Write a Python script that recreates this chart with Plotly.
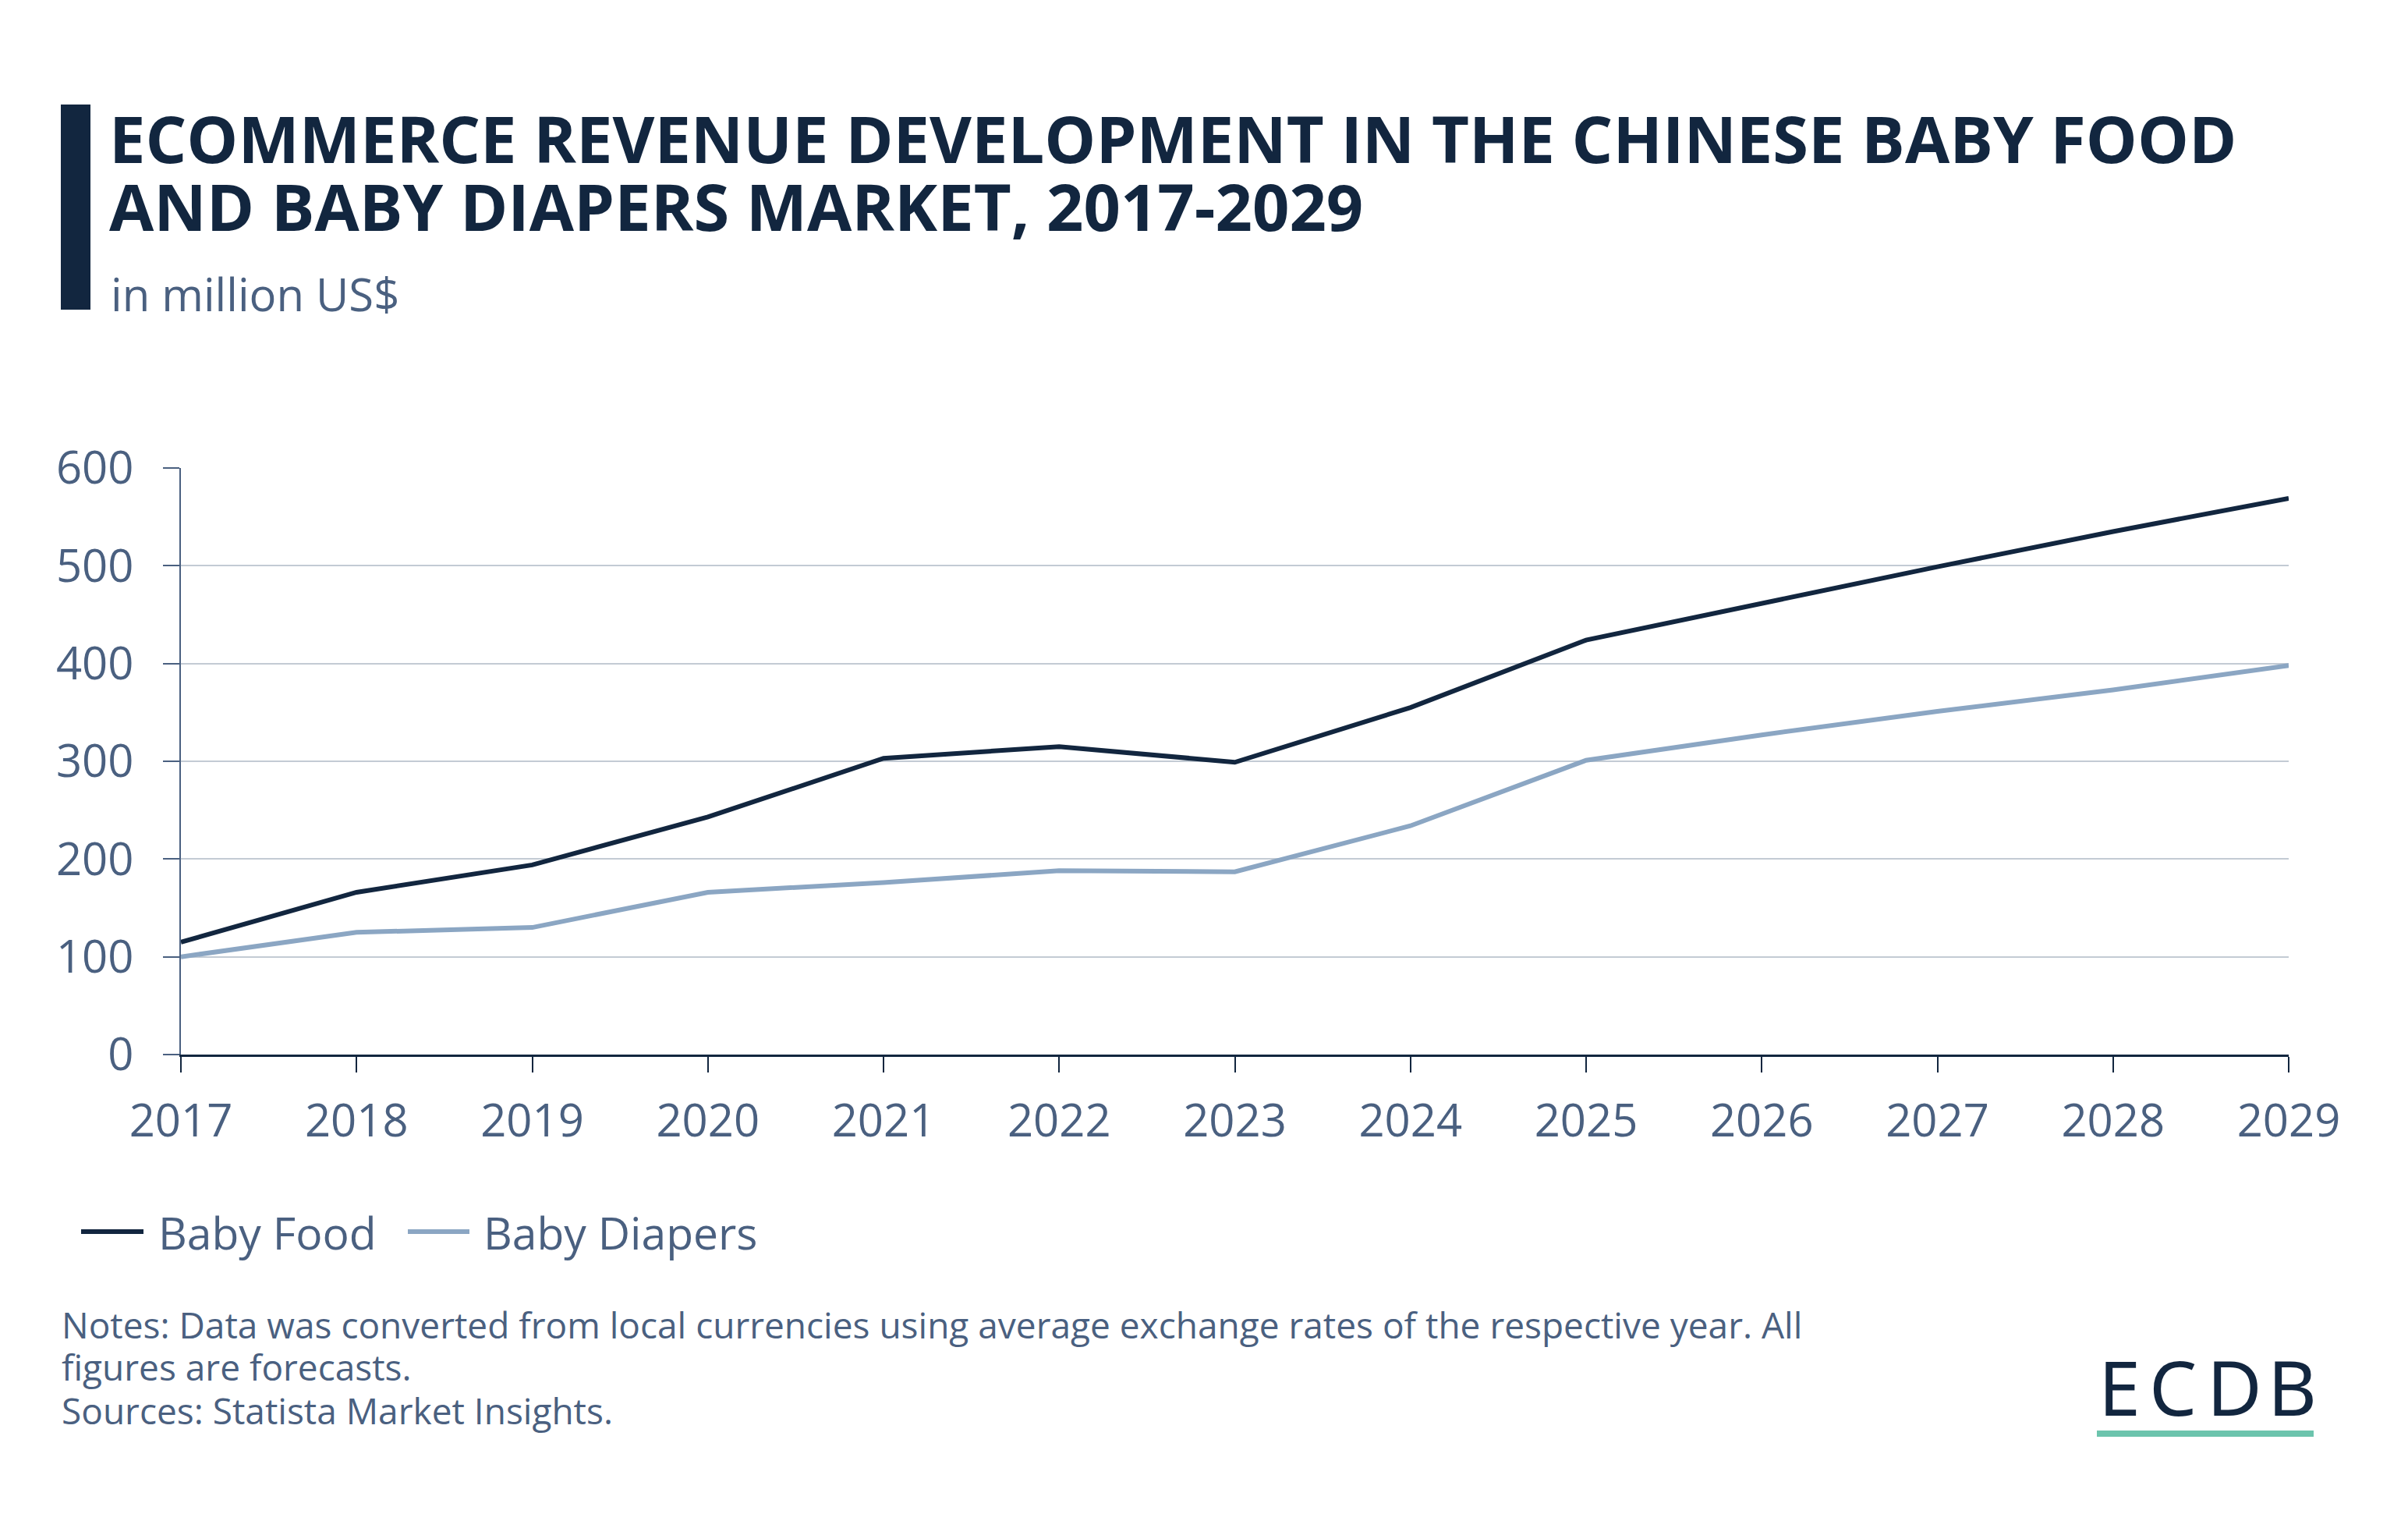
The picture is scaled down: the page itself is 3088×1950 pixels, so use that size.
import plotly.graph_objects as go

# ---- data ----
years = [2017, 2018, 2019, 2020, 2021, 2022, 2023, 2024, 2025, 2026, 2027, 2028, 2029]
baby_food = [115, 166, 194, 243, 303, 315, 299, 355, 424, 462, 499, 535, 569]
baby_diapers = [100, 125, 130, 166, 176, 188, 187, 234, 301, 327, 351, 373, 398]
series_names = ["Baby Food", "Baby Diapers"]
y_ticks = [0, 100, 200, 300, 400, 500, 600]

title_lines = ["ECOMMERCE REVENUE DEVELOPMENT IN THE CHINESE BABY FOOD",
               "AND BABY DIAPERS MARKET, 2017-2029"]
subtitle = "in million US$"
notes_lines = ["Notes: Data was converted from local currencies using average exchange rates of the respective year. All",
               "figures are forecasts.",
               "Sources: Statista Market Insights."]
logo_letters = ["E", "C", "D", "B"]

# ---- style ----
OFF = 8  # page body margin
W, H = 3088 - OFF, 1950 - OFF
L, R, T, B = 232 - OFF, 2935 - OFF, 600 - OFF, 1352 - OFF
NAVY = "#12263f"
DIAPER = "#8ba6c3"
SLATE = "#4a6080"
GRID = "#c3cbd4"
FONT = "Open Sans"


def px(x):
    return (x - OFF - L) / (R - L)


def py(y):
    return (B - (y - OFF)) / (B - T)


fig = go.Figure()
fig.add_trace(go.Scatter(x=years, y=baby_food, mode="lines", name=series_names[0],
                         line=dict(color=NAVY, width=6), showlegend=False))
fig.add_trace(go.Scatter(x=years, y=baby_diapers, mode="lines", name=series_names[1],
                         line=dict(color=DIAPER, width=6), showlegend=False))

fig.update_layout(
    width=W, height=H,
    margin=dict(l=L, r=W - R, t=T, b=H - B, pad=0),
    paper_bgcolor="white", plot_bgcolor="white",
    font=dict(family=FONT, color=SLATE),
    xaxis=dict(range=[2017, 2029], tickmode="array", tickvals=years,
               ticktext=[str(y) for y in years],
               showgrid=False, showline=True, linecolor=NAVY, linewidth=3,
               ticks="outside", ticklen=20, tickwidth=2, tickcolor=NAVY,
               tickfont=dict(size=58, color=SLATE, family=FONT),
               ticklabelstandoff=12, zeroline=False),
    yaxis=dict(range=[0, 600], tickmode="array", tickvals=y_ticks,
               showgrid=True, gridcolor=GRID, gridwidth=1.5,
               showline=True, linecolor=SLATE, linewidth=2,
               ticks="outside", ticklen=21, tickwidth=2, tickcolor=SLATE,
               tickfont=dict(size=58, color=SLATE, family=FONT),
               ticklabelstandoff=26, zeroline=False),
)

shapes = []
annotations = []

# left title bar
shapes.append(dict(type="rect", xref="paper", yref="paper",
                   x0=px(78), x1=px(116), y0=py(134), y1=py(397),
                   fillcolor=NAVY, line=dict(width=0)))

# title
for line, ymid in zip(title_lines, [176, 264]):
    annotations.append(dict(text="<b>" + line + "</b>", xref="paper", yref="paper",
                            x=px(138), y=py(ymid), xanchor="left", yanchor="middle",
                            showarrow=False, font=dict(size=83, color=NAVY, family=FONT)))
annotations.append(dict(text=subtitle, xref="paper", yref="paper",
                        x=px(140), y=py(376), xanchor="left", yanchor="middle",
                        showarrow=False, font=dict(size=58, color=SLATE, family=FONT)))

# legend (manual)
legend_items = [(series_names[0], NAVY, 104, 184, 201), (series_names[1], DIAPER, 523, 602, 618)]
for name, col, x0, x1, xt in legend_items:
    shapes.append(dict(type="line", xref="paper", yref="paper",
                       x0=px(x0), x1=px(x1), y0=py(1579), y1=py(1579),
                       line=dict(color=col, width=6)))
    annotations.append(dict(text=name, xref="paper", yref="paper",
                            x=px(xt), y=py(1580), xanchor="left", yanchor="middle",
                            showarrow=False, font=dict(size=57, color=SLATE, family=FONT)))

# notes
for line, ymid in zip(notes_lines, [1698, 1752, 1808]):
    annotations.append(dict(text=line, xref="paper", yref="paper",
                            x=px(77), y=py(ymid), xanchor="left", yanchor="middle",
                            showarrow=False, font=dict(size=46, color=SLATE, family=FONT)))

# logo
for letter, xc in zip(logo_letters, [2718, 2786, 2865, 2939]):
    annotations.append(dict(text=letter, xref="paper", yref="paper",
                            x=px(xc), y=py(1777), xanchor="center", yanchor="middle",
                            showarrow=False, font=dict(size=97, color=NAVY, family="Noto Sans")))
shapes.append(dict(type="rect", xref="paper", yref="paper",
                   x0=px(2689), x1=px(2967), y0=py(1842), y1=py(1834),
                   fillcolor="#6cc4ad", line=dict(width=0)))

fig.update_layout(shapes=shapes, annotations=annotations)
fig.write_html("out.html")
